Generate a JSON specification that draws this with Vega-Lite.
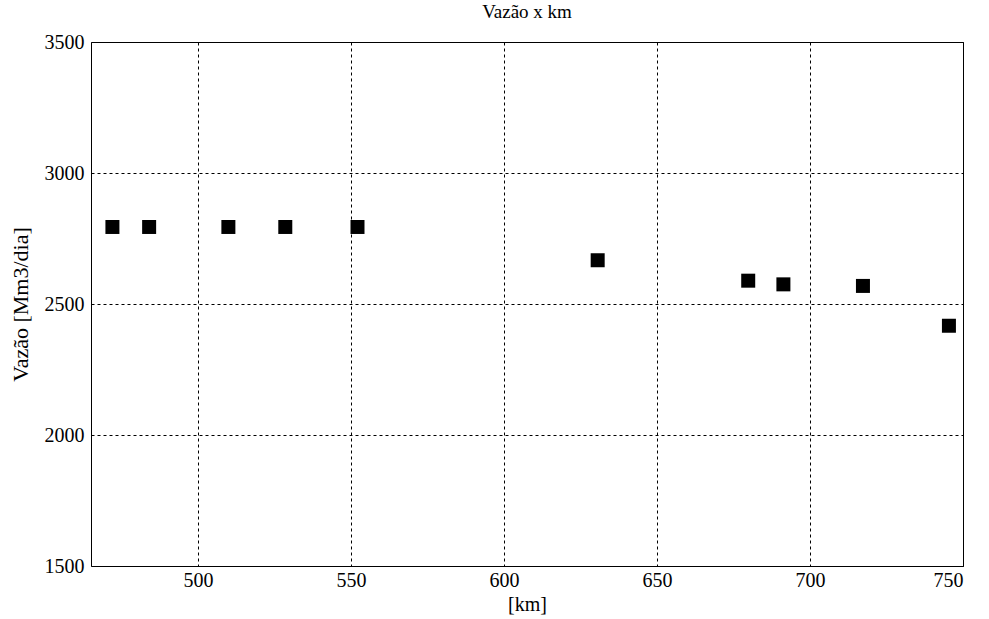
{
  "$schema": "https://vega.github.io/schema/vega-lite/v6.json",
  "width": 872,
  "height": 524,
  "autosize": "none",
  "padding": {"left": 91, "top": 42, "right": 26, "bottom": 53},
  "background": "white",
  "title": {"text": "Vazão x km", "font": "Liberation Serif", "fontSize": 19, "fontWeight": "normal", "color": "black", "offset": 10},
  "config": {
    "view": {"stroke": "black", "strokeWidth": 1},
    "axis": {
      "labelFont": "Liberation Serif", "labelFontSize": 20, "labelColor": "black",
      "titleFont": "Liberation Serif", "titleFontSize": 20, "titleFontWeight": "normal", "titleColor": "black",
      "grid": true, "gridColor": "black", "gridDash": [3, 3], "gridOpacity": 1, "gridWidth": 1,
      "domain": false, "ticks": false
    }
  },
  "data": {"values": [
    {"km": 472.0, "vazao": 2794},
    {"km": 484.0, "vazao": 2794},
    {"km": 509.9, "vazao": 2794},
    {"km": 528.5, "vazao": 2794},
    {"km": 552.1, "vazao": 2794},
    {"km": 630.6, "vazao": 2667},
    {"km": 679.8, "vazao": 2589},
    {"km": 691.3, "vazao": 2575},
    {"km": 717.3, "vazao": 2569},
    {"km": 745.4, "vazao": 2417}
  ]},
  "mark": {"type": "point", "shape": "square", "filled": true, "color": "black", "size": 196, "opacity": 1},
  "encoding": {
    "x": {"field": "km", "type": "quantitative", "title": "[km]",
      "scale": {"domain": [465, 750], "nice": false, "zero": false},
      "axis": {"values": [500, 550, 600, 650, 700, 750], "labelPadding": 4, "titlePadding": 4}},
    "y": {"field": "vazao", "type": "quantitative", "title": "Vazão [Mm3/dia]",
      "scale": {"domain": [1500, 3500], "nice": false, "zero": false},
      "axis": {"values": [1500, 2000, 2500, 3000, 3500], "labelPadding": 7, "titlePadding": 12, "titleFontSize": 22, "format": "d"}}
  }
}
